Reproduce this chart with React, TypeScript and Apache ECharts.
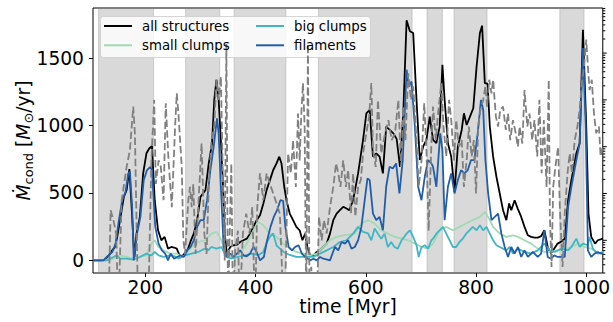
import React, { useEffect, useRef } from "react";
import * as echarts from "echarts";

// ---------- data ----------
const xTicks = [200, 400, 600, 800, 1000];
const yTicks = [0, 500, 1000, 1500];
const rightMajorTicks = [1, 10, 100, 1000, 10000];
const rightMinorTicks = [
  0.2, 0.3, 0.4, 0.5, 0.6, 0.7, 0.8, 0.9,
  2, 3, 4, 5, 6, 7, 8, 9,
  20, 30, 40, 50, 60, 70, 80, 90,
  200, 300, 400, 500, 600, 700, 800, 900,
  2000, 3000, 4000, 5000, 6000, 7000, 8000, 9000,
  20000, 30000, 40000, 50000, 60000, 70000, 80000, 90000,
];

// shaded time intervals [start, end] in Myr
const phases: [number, number][] = [
  [115, 215], [273, 335], [361, 455], [514, 684], [711, 739], [760, 820], [952, 996],
];

const allStructures: [number, number][] = [
  [105, 0], [120, 0], [125, 3], [130, 20], [134, 37], [140, 74], [145, 100], [149, 174], [155, 322], [161, 471],
  [166, 520], [171, 677], [175, 400], [180, 20], [184, 200], [190, 322], [196, 645], [202, 794], [207, 830], [212, 848],
  [217, 446], [223, 223], [229, 149], [235, 174], [241, 87], [247, 99], [252, 95], [257, 87], [263, 25], [267, 30],
  [272, 55], [277, 80], [282, 140], [288, 200], [294, 300], [300, 471], [309, 520], [315, 719], [321, 868], [325, 1190],
  [329, 1339], [333, 1190], [337, 893], [341, 546], [344, 198], [348, 50], [354, 99], [360, 112], [366, 115], [372, 136],
  [378, 149], [384, 161], [390, 198], [396, 248], [402, 298], [408, 335], [414, 420], [420, 521], [426, 595], [432, 670],
  [438, 719], [443, 769], [447, 719], [452, 546], [456, 446], [462, 347], [468, 298], [474, 248], [480, 223], [485, 149],
  [490, 198], [494, 99], [499, 37], [505, 37], [511, 62], [517, 74], [523, 99], [529, 124], [535, 198], [541, 298],
  [547, 347], [553, 372], [559, 397], [565, 384], [570, 372], [577, 446], [586, 645], [595, 893], [601, 1091], [607, 1116],
  [613, 769], [619, 794], [625, 769], [631, 645], [637, 992], [643, 970], [650, 942], [656, 900], [662, 694], [668, 1091],
  [674, 1781], [680, 1700], [686, 1686], [692, 1190], [698, 744], [704, 843], [710, 893], [716, 1066], [722, 893], [728, 870],
  [734, 992], [739, 1451], [743, 1190], [749, 868], [755, 769], [761, 508], [767, 843], [774, 967], [778, 1091], [783, 1004],
  [789, 1066], [795, 1128], [801, 1438], [807, 1686], [811, 1741], [816, 1314], [821, 1310], [825, 992], [831, 769], [837, 620],
  [843, 496], [849, 372], [855, 298], [860, 422], [864, 372], [870, 446], [876, 380], [882, 322], [888, 248], [894, 186],
  [900, 174], [906, 169], [912, 169], [918, 179], [924, 223], [930, 99], [936, 50], [942, 87], [948, 124], [955, 140],
  [961, 161], [967, 446], [973, 595], [982, 794], [988, 868], [994, 1711], [1000, 992], [1004, 347], [1009, 174], [1016, 124],
  [1021, 149], [1030, 161],
];

const smallClumps: [number, number][] = [
  [105, 0], [130, 0], [142, 12], [154, 37], [166, 25], [178, 12], [190, 25], [202, 37], [211, 124], [217, 149],
  [224, 99], [233, 74], [245, 50], [257, 50], [265, 25], [272, 37], [284, 99], [296, 136], [308, 149], [320, 198],
  [329, 211], [338, 149], [347, 37], [356, 25], [369, 50], [381, 99], [393, 198], [405, 285], [414, 260], [426, 198],
  [438, 174], [450, 124], [462, 87], [474, 62], [486, 50], [499, 37], [511, 50], [523, 99], [535, 149], [547, 174],
  [559, 186], [568, 190], [580, 198], [592, 273], [604, 298], [616, 273], [628, 223], [640, 198], [653, 174], [665, 161],
  [677, 149], [689, 124], [701, 99], [713, 87], [722, 124], [734, 223], [746, 248], [758, 223], [770, 248], [782, 273],
  [794, 298], [807, 322], [816, 360], [822, 322], [831, 248], [843, 198], [855, 174], [867, 186], [876, 174], [888, 149],
  [900, 124], [912, 87], [924, 62], [936, 62], [948, 74], [961, 79], [973, 99], [985, 124], [997, 99], [1009, 87],
  [1021, 50], [1030, 62],
];

const bigClumps: [number, number][] = [
  [105, 0], [130, 0], [142, 25], [148, 37], [154, 12], [166, 12], [178, 5], [190, 25], [202, 50], [211, 37],
  [217, 62], [224, 37], [233, 25], [245, 37], [257, 25], [260, 12], [272, 37], [284, 50], [296, 62], [308, 87],
  [314, 74], [320, 99], [329, 87], [338, 99], [347, 25], [356, 12], [368, 25], [381, 37], [393, 50], [405, 37],
  [414, 62], [420, 130], [426, 174], [432, 200], [438, 110], [444, 87], [452, 60], [462, 40], [474, 25], [492, 25],
  [505, 25], [517, 50], [529, 74], [541, 99], [553, 136], [565, 149], [577, 198], [586, 248], [595, 211], [604, 200],
  [610, 149], [616, 236], [622, 198], [628, 161], [634, 198], [640, 99], [646, 136], [652, 99], [658, 87], [665, 149],
  [674, 198], [680, 223], [686, 174], [692, 112], [696, 25], [701, 99], [707, 112], [713, 87], [719, 149], [722, 161],
  [728, 198], [734, 223], [740, 248], [746, 198], [752, 149], [758, 99], [764, 99], [770, 136], [776, 161], [782, 198],
  [788, 223], [794, 248], [801, 223], [807, 260], [813, 223], [819, 248], [825, 198], [831, 149], [837, 112], [843, 99],
  [849, 87], [855, 74], [861, 99], [867, 50], [876, 87], [888, 62], [900, 50], [912, 74], [924, 124], [934, 74],
  [943, 62], [955, 87], [967, 74], [973, 99], [982, 161], [988, 99], [994, 124], [1003, 112], [1006, 174], [1012, 87],
  [1021, 50], [1030, 60],
];

const filaments: [number, number][] = [
  [105, 0], [124, 0], [130, 25], [140, 62], [146, 124], [152, 298], [158, 446], [164, 508], [169, 645], [172, 657],
  [176, 397], [179, 0], [185, 200], [191, 322], [197, 595], [203, 670], [209, 694], [212, 670], [218, 248], [224, 124],
  [230, 74], [236, 50], [241, 0], [246, 50], [252, 12], [258, 25], [264, 37], [270, 25], [276, 74], [282, 100],
  [288, 149], [294, 248], [300, 298], [306, 298], [312, 446], [318, 670], [324, 843], [330, 1054], [333, 942], [337, 546],
  [342, 100], [348, 25], [354, 50], [360, 25], [366, 50], [372, 74], [378, 37], [384, 30], [390, 50], [396, 100],
  [402, 62], [408, 0], [415, 25], [421, 149], [427, 248], [433, 322], [439, 372], [445, 446], [450, 441], [454, 248],
  [460, 100], [466, 74], [472, 100], [478, 112], [484, 50], [490, 25], [499, 0], [505, 12], [511, 0], [517, 25],
  [523, 12], [535, 0], [544, 100], [550, 74], [556, 136], [562, 124], [568, 149], [574, 87], [580, 99], [586, 149],
  [592, 248], [598, 446], [603, 608], [607, 595], [613, 347], [619, 298], [625, 322], [631, 223], [637, 546], [643, 694],
  [649, 682], [655, 719], [661, 496], [667, 744], [674, 1414], [678, 1290], [683, 1327], [689, 992], [695, 546], [701, 446],
  [707, 620], [713, 744], [719, 719], [722, 694], [728, 546], [735, 942], [739, 818], [743, 298], [749, 546], [755, 645],
  [761, 496], [767, 595], [773, 670], [779, 645], [785, 670], [791, 744], [797, 744], [803, 942], [809, 1190], [813, 1116],
  [817, 744], [822, 496], [828, 298], [834, 322], [840, 347], [846, 198], [852, 99], [858, 25], [864, 99], [870, 50],
  [876, 99], [882, 25], [888, 74], [894, 25], [903, 62], [912, 25], [918, 50], [924, 223], [930, 25], [936, 12],
  [942, 37], [948, 25], [955, 25], [961, 25], [967, 397], [973, 546], [982, 744], [988, 868], [994, 1575], [999, 992],
  [1003, 74], [1009, 25], [1015, 50], [1021, 62], [1027, 50], [1030, 55],
];

// dashed grey curve on the right-hand log axis (values below the axis floor leave the frame)
const rightAxisSeries: [number, number][] = [
  [105, 0.03], [133, 0.03], [137, 4.4], [142, 2.7], [147, 1.4], [151, 0.03], [157, 7.2], [166, 37], [172, 85], [178, 720],
  [181, 195], [187, 0.03], [193, 0.03], [205, 0.03], [211, 51], [216, 1000], [219, 16], [224, 51], [228, 37], [233, 7.2],
  [237, 850], [242, 51], [248, 5.1], [254, 270], [257, 1380], [260, 510], [263, 138], [266, 37], [269, 1], [272, 0.51],
  [278, 7.2], [281, 13.8], [284, 5.1], [287, 16], [291, 0.51], [296, 5.1], [302, 117], [307, 1.4], [311, 0.51], [315, 13.8],
  [320, 138], [325, 270], [329, 2700], [333, 1000], [337, 3160], [341, 13.8], [344, 0.37], [347, 15800], [350, 0.03], [353, 1.4],
  [356, 44], [359, 0.03], [363, 0.63], [368, 1.6], [371, 0.03], [377, 1.4], [383, 3.7], [389, 1.4], [394, 5.1], [399, 0.03],
  [403, 5.1], [408, 27], [414, 7.2], [420, 27], [426, 16], [432, 10], [438, 6.2], [444, 3.7], [451, 0.03], [455, 0.37],
  [459, 72], [464, 27], [468, 138], [473, 13.8], [477, 510], [480, 51], [483, 510], [486, 2290], [489, 270], [492, 0.03],
  [495, 15800], [498, 0.03], [501, 0.27], [505, 0.03], [511, 0.03], [515, 3.2], [520, 1], [524, 2.7], [529, 1.4], [535, 5.1],
  [541, 13.8], [546, 44], [550, 27], [554, 13.8], [559, 51], [564, 13.8], [568, 32], [573, 3.7], [577, 27], [581, 3.2],
  [586, 13.8], [591, 19.5], [595, 72], [601, 195], [606, 440], [610, 2290], [613, 85], [618, 37], [622, 1000], [628, 72],
  [635, 195], [641, 370], [647, 138], [653, 195], [659, 1000], [664, 37], [668, 720], [672, 138], [677, 3700], [682, 1000],
  [686, 1950], [692, 138], [696, 13.8], [701, 51], [706, 850], [710, 85], [714, 1.6], [719, 117], [722, 720], [727, 138],
  [731, 510], [737, 2290], [741, 270], [746, 62], [751, 1000], [755, 370], [760, 51], [764, 370], [769, 100], [774, 138],
  [778, 13.8], [783, 51], [787, 270], [792, 62], [796, 138], [800, 10], [804, 270], [808, 620], [813, 1000], [817, 1950],
  [820, 720], [824, 2700], [828, 1380], [831, 2700], [836, 440], [840, 270], [844, 620], [849, 720], [854, 230], [858, 510],
  [862, 138], [867, 370], [872, 195], [876, 100], [879, 270], [884, 117], [888, 1620], [893, 270], [897, 510], [902, 138],
  [906, 370], [911, 62], [915, 1000], [919, 27], [923, 370], [928, 13.8], [932, 2700], [934, 3.2], [937, 0.27], [940, 13.8],
  [944, 37], [949, 100], [952, 5.1], [957, 0.27], [961, 3.7], [966, 27], [970, 72], [974, 27], [979, 138], [984, 270],
  [988, 620], [992, 2290], [996, 5100], [1000, 19500], [1003, 5100], [1006, 1620], [1010, 2700], [1014, 510], [1018, 195], [1023, 270],
  [1026, 62], [1030, 100],
];

// ---------- layout / style constants ----------
const FONT = "DejaVu Sans";
const X_MIN = 105, X_MAX = 1030;
const Y_MIN = -94, Y_MAX = 1872;
const R_MIN = 0.2, R_MAX = 92000;
const BAND = "rgba(128,128,128,0.3)";
const LW = 1.8;

export default function App() {
  const ref = useRef<HTMLDivElement>(null);

  useEffect(() => {
    if (!ref.current) return;
    const chart = echarts.init(ref.current, undefined, { renderer: "svg" });

    const lineSeries = (name: string, data: [number, number][], color: string, extra: any = {}) => ({
      name,
      type: "line",
      data,
      showSymbol: false,
      symbol: "none",
      lineStyle: { color, width: LW },
      itemStyle: { color },
      emphasis: { disabled: true },
      silent: true,
      ...extra,
    });

    const legendCommon = {
      orient: "vertical",
      padding: 0,
      itemWidth: 28,
      itemHeight: 2,
      itemGap: 3.3,
      icon: "rect",
      selectedMode: false,
      textStyle: { fontFamily: FONT, fontSize: 13.33, color: "#000", lineHeight: 16, padding: [0, 0, 0, 5] },
    };

    const plain = (v: number) => String(v);

    const option: any = {
      animation: false,
      grid: { left: 93, top: 8, right: 10, bottom: 49, show: true, borderColor: "#000", borderWidth: 1, backgroundColor: "transparent" },
      xAxis: {
        type: "value", min: X_MIN, max: X_MAX,
        axisLine: { show: false, onZero: false },
        splitLine: { show: false },
        axisTick: { show: true, length: 4, lineStyle: { color: "#000", width: 1 }, customValues: xTicks },
        axisLabel: { customValues: xTicks, formatter: plain, margin: 5.5, lineHeight: 18, fontSize: 18.67, fontFamily: FONT, color: "#000" },
      },
      yAxis: [
        {
          type: "value", min: Y_MIN, max: Y_MAX,
          axisLine: { show: false, onZero: false },
          splitLine: { show: false },
          axisTick: { show: true, length: 4, lineStyle: { color: "#000", width: 1 }, customValues: yTicks },
          axisLabel: { customValues: yTicks, formatter: plain, margin: 9, fontSize: 18.67, fontFamily: FONT, color: "#000" },
        },
        {
          type: "log", logBase: 10, min: R_MIN, max: R_MAX, position: "right",
          axisLine: { show: false, onZero: false },
          splitLine: { show: false },
          axisTick: { show: false },
          axisLabel: { show: false },
          minorTick: { show: false },
        },
      ],
      legend: [
        { ...legendCommon, left: 104, top: 18, data: ["all structures", "small clumps"] },
        { ...legendCommon, left: 256, top: 18, data: ["big clumps", "filaments"] },
      ],
      graphic: {
        elements: [
          {
            type: "rect", z: 3, silent: true,
            shape: { x: 100.5, y: 16.5, width: 270, height: 41, r: 3 },
            style: { fill: "rgba(255,255,255,0.8)", stroke: "rgba(204,204,204,0.8)", lineWidth: 1 },
          },
          {
            type: "text", x: 23, y: 140.5, rotation: Math.PI / 2, silent: true,
            style: {
              text: "{m|\u1E40}{s|cond} [{m|M}{s|\u2299}/yr]",
              fontFamily: FONT, fontSize: 18.67, fill: "#000", align: "center", verticalAlign: "middle", lineHeight: 24,
              rich: {
                m: { fontFamily: FONT, fontSize: 18.67, fontStyle: "italic", lineHeight: 24 },
                s: { fontFamily: FONT, fontSize: 13, lineHeight: 16, verticalAlign: "bottom" },
              },
            },
          },
          {
            type: "text", x: 348, y: 306.5, silent: true,
            style: { text: "time [Myr]", fontFamily: FONT, fontSize: 18.67, lineHeight: 18, fill: "#000", align: "center", verticalAlign: "middle" },
          },
        ],
      },
      series: [
        {
          type: "custom", name: "phases", silent: true, z: 1,
          data: phases,
          renderItem: (_p: any, api: any) => {
            const a = api.coord([api.value(0), Y_MAX]);
            const b = api.coord([api.value(1), Y_MIN]);
            return {
              type: "rect",
              shape: { x: a[0], y: a[1], width: b[0] - a[0], height: b[1] - a[1] },
              style: { fill: BAND, stroke: BAND, lineWidth: 1 },
            };
          },
        },
        lineSeries("all structures", allStructures, "#000000"),
        lineSeries("small clumps", smallClumps, "#a1dab4"),
        lineSeries("big clumps", bigClumps, "#41b6c4"),
        lineSeries("filaments", filaments, "#225ea8"),
        lineSeries("rate", rightAxisSeries, "#808080", {
          yAxisIndex: 1,
          lineStyle: { color: "#808080", width: LW, type: [7.4, 3.2] },
        }),
        {
          type: "custom", name: "rightTicks", silent: true, z: 5, yAxisIndex: 1, clip: false,
          data: [...rightMajorTicks, ...rightMinorTicks].map((v) => [X_MAX, v]),
          renderItem: (p: any, api: any) => {
            const pt = api.coord([api.value(0), api.value(1)]);
            const len = p.dataIndex < rightMajorTicks.length ? 4 : 2.5;
            return {
              type: "line",
              shape: { x1: pt[0], y1: pt[1], x2: pt[0] + len, y2: pt[1] },
              style: { stroke: "#000", lineWidth: 1 },
            };
          },
        },
      ],
    };

    chart.setOption(option);
    return () => chart.dispose();
  }, []);

  return <div ref={ref} style={{ position: "absolute", left: 0, top: 0, width: 613, height: 322, background: "#fff" }} />;
}
